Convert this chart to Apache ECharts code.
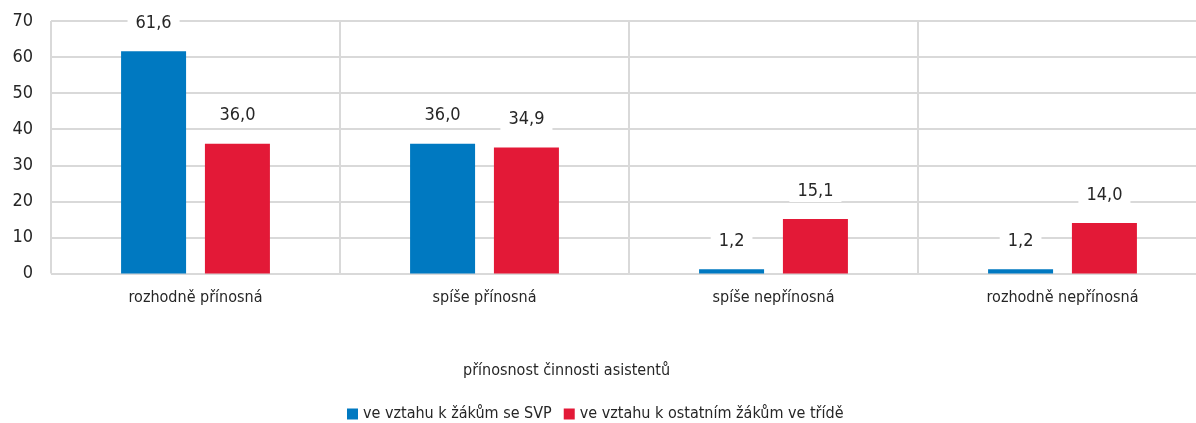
<!DOCTYPE html>
<html><head><meta charset="utf-8">
<script src="https://cdn.jsdelivr.net/npm/echarts@6/dist/echarts.min.js"></script>
<style>html,body{margin:0;padding:0;background:#fff;overflow:hidden;width:1196px;height:423px}#c{width:1207px;height:423px}</style>
</head><body><div id="c"></div>
<script>
const categories = ['rozhodně přínosná', 'spíše přínosná', 'spíše nepřínosná', 'rozhodně nepřínosná'];
const seriesNames = ['ve vztahu k žákům se SVP', 've vztahu k ostatním žákům ve třídě'];
const svpValues = [61.6, 36.0, 1.2, 1.2];
const otherValues = [36.0, 34.9, 15.1, 14.0];
const yTicks = [0, 10, 20, 30, 40, 50, 60, 70];
const axisTitle = 'přínosnost činnosti asistentů';

const FONT = '"DejaVu Sans Condensed", "Liberation Sans Narrow", sans-serif';
const TXT = '#262626';
const GRID = '#d9d9d9';
const fmt = v => v.toFixed(1).replace('.', ',');
const label = {
  show: true, position: 'top', distance: 17,
  formatter: p => fmt(p.value),
  fontFamily: FONT, fontSize: 18, color: TXT,
  backgroundColor: '#fff', padding: [2, 8]
};
const chart = echarts.init(document.getElementById('c'), null, {renderer: 'canvas'});
chart.setOption({
  animation: false,
  textStyle: {fontFamily: FONT},
  grid: {left: 51, right: 0, top: 21, bottom: 149.5, containLabel: false},
  title: {
    text: axisTitle, left: 458, top: 358,
    textStyle: {fontFamily: FONT, fontSize: 16, fontWeight: 'normal', color: TXT}
  },
  legend: {
    top: 401, left: 342, itemWidth: 11, itemHeight: 11, itemGap: 12,
    icon: 'rect',
    textStyle: {fontFamily: FONT, fontSize: 16, color: TXT},
    data: seriesNames
  },
  xAxis: {
    type: 'category', data: categories,
    axisLine: {show: false}, axisTick: {show: false},
    splitLine: {show: true, lineStyle: {color: GRID, width: 2}},
    axisLabel: {fontFamily: FONT, fontSize: 16, color: TXT, margin: 16}
  },
  yAxis: {
    type: 'value', min: yTicks[0], max: yTicks[yTicks.length - 1], interval: 10,
    axisLine: {show: false}, axisTick: {show: false},
    splitLine: {lineStyle: {color: GRID, width: 2}},
    axisLabel: {fontFamily: FONT, fontSize: 18, color: TXT, margin: 18}
  },
  series: [
    {name: seriesNames[0], type: 'bar', data: svpValues, barWidth: 65, barGap: '29%',
     itemStyle: {color: '#0079c1'}, label: label},
    {name: seriesNames[1], type: 'bar', data: otherValues, barWidth: 65,
     itemStyle: {color: '#e31937'}, label: label}
  ]
});
</script></body></html>
